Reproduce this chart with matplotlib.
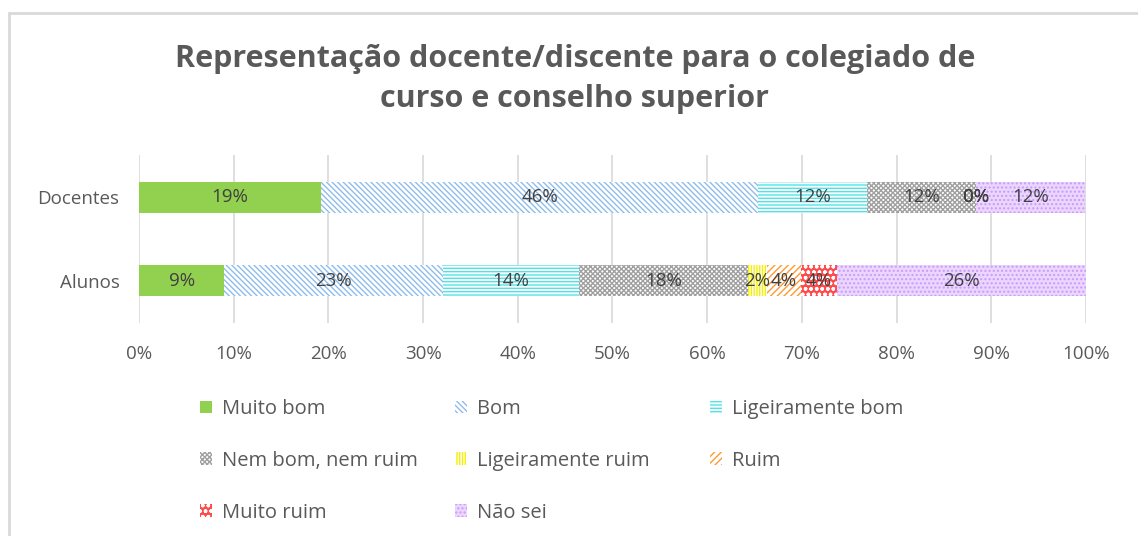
import matplotlib.pyplot as plt
import numpy as np
from matplotlib import ticker
from matplotlib.patches import Rectangle

plt.rcParams['font.family'] = ['Open Sans', 'DejaVu Sans']
plt.rcParams['hatch.linewidth'] = 1.0

groups = ['Alunos', 'Docentes']
categories = ['Muito bom', 'Bom', 'Ligeiramente bom', 'Nem bom, nem ruim',
              'Ligeiramente ruim', 'Ruim', 'Muito ruim', 'Não sei']
# percent per category, order: Alunos, Docentes
values = {
    'Muito bom':          [9.0, 19.2],
    'Bom':                [23.1, 46.2],
    'Ligeiramente bom':   [14.4, 11.5],
    'Nem bom, nem ruim':  [17.8, 11.5],
    'Ligeiramente ruim':  [2.0, 0.0],
    'Ruim':               [3.6, 0.0],
    'Muito ruim':         [3.8, 0.0],
    'Não sei':            [26.3, 11.5],
}
xticks = np.arange(0, 101, 10)

# facecolor, hatch colour, hatch
STYLES = {
    'Muito bom':         ('#92D050', '#92D050', None),
    'Bom':               ('white', '#8FBDEB', '\\' * 6),
    'Ligeiramente bom':  ('white', '#4FE3E8', '-' * 5),
    'Nem bom, nem ruim': ('white', '#A0A0A0', 'x' * 7),
    'Ligeiramente ruim': ('white', '#F5F000', '|' * 6),
    'Ruim':              ('white', '#FF9933', '/' * 5),
    'Muito ruim':        ('#FF4B4B', '#FFFFFF', 'ooo'),
    'Não sei':           ('#EBD6FF', '#C99BF5', '....'),
}

TXT = '#404040'
GREY = '#595959'

fig = plt.figure(figsize=(11.38, 5.36), dpi=100)
ax = fig.add_axes([0.1221, 0.3974, 0.8322, 0.3134])

y = np.arange(len(groups))
left = np.zeros(len(groups))
handles = {}
for cat in categories:
    vals = np.array(values[cat])
    fc, hc, hatch = STYLES[cat]
    bars = ax.barh(y, vals, height=0.375, left=left, color=fc, edgecolor=hc,
                   hatch=hatch, linewidth=0, label=cat)
    labels = [f'{v:.0f}%' for v in vals]
    ax.bar_label(bars, labels=labels, label_type='center', fontsize=13.5,
                 color=TXT)
    handles[cat] = bars
    left += vals

ax.set_xlim(0, 100)
ax.set_ylim(-0.51, 1.51)
ax.set_xticks(xticks)
ax.xaxis.set_major_formatter(ticker.FuncFormatter(lambda v, p: f'{v:.0f}%'))
ax.set_yticks(y)
ax.set_yticklabels(groups)
ax.tick_params(axis='both', length=0, colors=GREY, labelsize=13.5)
ax.tick_params(axis='x', pad=16)
ax.tick_params(axis='y', pad=14)
for s in ax.spines.values():
    s.set_visible(False)
ax.grid(axis='x', color='#D9D9D9', linewidth=1.2)
ax.set_axisbelow(True)

fig.text(0.505, 0.853, 'Representação docente/discente para o colegiado de\ncurso e conselho superior',
         ha='center', va='center', fontsize=22, fontweight='bold', color=GREY,
         linespacing=1.45)

# legend laid out row by row, one legend per column
cols = [['Muito bom', 'Nem bom, nem ruim', 'Muito ruim'],
        ['Bom', 'Ligeiramente ruim', 'Não sei'],
        ['Ligeiramente bom', 'Ruim']]
xs = [200, 455, 710]
for col, x0 in zip(cols, xs):
    fig.legend([handles[c] for c in col], col, loc='upper left',
               bbox_to_anchor=(x0 / 1138, 1 - 399 / 536), frameon=False,
               fontsize=14.5, labelcolor=GREY, handlelength=0.6,
               handleheight=0.6, handletextpad=0.5, labelspacing=1.58,
               borderpad=0, borderaxespad=0)

fig.patches.append(Rectangle((9 / 1138, -0.1), 1.2, 1.1 - 13 / 536,
                             transform=fig.transFigure, fill=False,
                             edgecolor='#D9D9D9', linewidth=2))

fig.savefig('out.png', dpi=100)
